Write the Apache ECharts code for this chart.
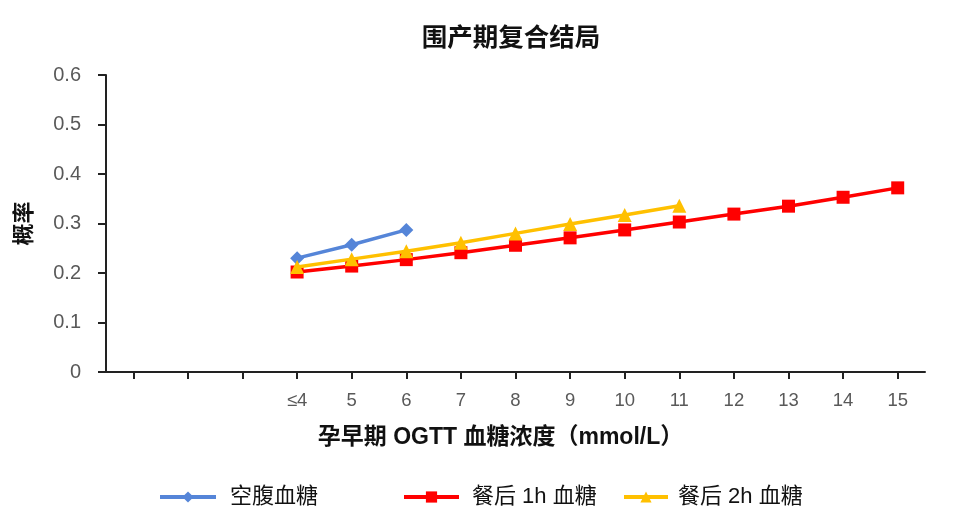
<!DOCTYPE html>
<html>
<head>
<meta charset="utf-8">
<script src="https://cdn.jsdelivr.net/npm/echarts@6/dist/echarts.min.js"></script>
<style>html,body{margin:0;padding:0;background:#fff;}#c{width:960px;height:524px;}</style>
</head>
<body>
<div id="c"></div>
<script>
const categories = ['', '', '', '≤4', '5', '6', '7', '8', '9', '10', '11', '12', '13', '14', '15'];
const fastingValues = [null, null, null, 0.230, 0.257, 0.287, null, null, null, null, null, null, null, null, null];
const oneHourValues = [null, null, null, 0.202, 0.214, 0.227, 0.241, 0.256, 0.271, 0.287, 0.303, 0.319, 0.335, 0.353, 0.372];
const twoHourValues = [null, null, null, 0.212, 0.228, 0.244, 0.261, 0.280, 0.299, 0.317, 0.336, null, null, null, null];
const yTicks = { min: 0, max: 0.6, interval: 0.1 };

const cjk = '"Noto Sans CJK SC", "Liberation Sans", sans-serif';
const mixed = '"Liberation Sans", "Noto Sans CJK SC", sans-serif';

const chart = echarts.init(document.getElementById('c'));
function legendAt(name, left, w, pad) {
  return {
    data: [name], left: left, top: 486, padding: 0, itemWidth: w, itemHeight: 14,
    lineStyle: { width: 4 },
    textStyle: { fontFamily: mixed, fontSize: 22, color: '#111', padding: [0, 0, 0, pad] },
    selectedMode: false
  };
}
chart.setOption({
  animation: false,
  title: {
    text: '围产期复合结局', left: 506, top: 19, textAlign: 'center',
    textStyle: { fontFamily: cjk, fontSize: 25.5, fontWeight: 'bold', color: '#111' }
  },
  legend: [
    legendAt('空腹血糖', 158, 56, 9),
    legendAt('餐后 1h 血糖', 402, 55, 8),
    legendAt('餐后 2h 血糖', 622, 44, 5)
  ],
  grid: { left: 106, right: 35, top: 75, bottom: 152, containLabel: false },
  xAxis: {
    type: 'category', data: categories, boundaryGap: true,
    name: '孕早期 OGTT 血糖浓度（mmol/L）', nameLocation: 'middle', nameGap: 54,
    nameTextStyle: { fontFamily: mixed, fontSize: 23, fontWeight: 'bold', color: '#111', padding: [0, 30, 0, 0] },
    axisLine: { lineStyle: { color: '#222', width: 2 } },
    axisTick: { show: true, alignWithLabel: true, interval: 0, length: 7, lineStyle: { color: '#222', width: 2 } },
    axisLabel: { interval: 0, margin: 20, fontFamily: mixed, fontSize: 18.5, color: '#595959' },
    splitLine: { show: false }
  },
  yAxis: {
    type: 'value', min: yTicks.min, max: yTicks.max, interval: yTicks.interval,
    name: '概率', nameLocation: 'middle', nameGap: 72,
    nameTextStyle: { fontFamily: cjk, fontSize: 22, fontWeight: 'bold', color: '#111' },
    axisLine: { show: true, lineStyle: { color: '#222', width: 2 } },
    axisTick: { show: true, length: 8, lineStyle: { color: '#222', width: 2 } },
    axisLabel: { margin: 25, fontFamily: mixed, fontSize: 20, color: '#595959' },
    splitLine: { show: false }
  },
  series: [
    {
      name: '空腹血糖', type: 'line', data: fastingValues, symbol: 'diamond', symbolSize: 14,
      lineStyle: { color: '#5585d8', width: 3.5 }, itemStyle: { color: '#5585d8' }, connectNulls: false
    },
    {
      name: '餐后 1h 血糖', type: 'line', data: oneHourValues, symbol: 'rect', symbolSize: 13,
      lineStyle: { color: '#ff0000', width: 3.5 }, itemStyle: { color: '#ff0000' }, z: 2
    },
    {
      name: '餐后 2h 血糖', type: 'line', data: twoHourValues, symbol: 'triangle', symbolSize: 14,
      lineStyle: { color: '#ffc000', width: 3.5 }, itemStyle: { color: '#ffc000' }, z: 3
    }
  ]
});
</script>
</body>
</html>
